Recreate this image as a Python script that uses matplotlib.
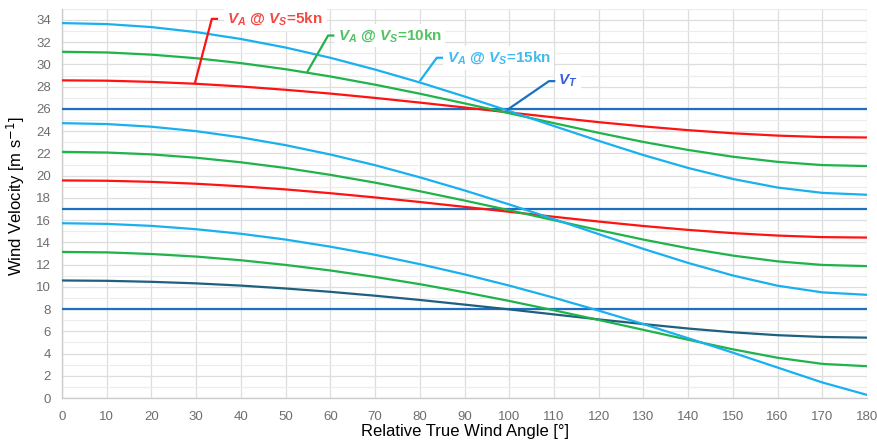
import matplotlib
matplotlib.use('Agg')
import matplotlib.pyplot as plt
from matplotlib.ticker import MultipleLocator

plt.rcParams['font.family'] = ['Liberation Sans', 'DejaVu Sans']
plt.rcParams['mathtext.fontset'] = 'custom'
plt.rcParams['mathtext.it'] = 'Liberation Sans:italic:bold'
plt.rcParams['mathtext.rm'] = 'Liberation Sans:bold'
plt.rcParams['mathtext.bf'] = 'Liberation Sans:bold'

angle = list(range(0, 181, 10))

# true wind speeds (horizontal lines)
vt_levels = [26, 17, 8]

# apparent wind, per true wind speed
va_26_5kn = [28.57, 28.54, 28.43, 28.26, 28.02, 27.72, 27.38, 26.99, 26.57, 26.13,
             25.68, 25.24, 24.81, 24.43, 24.09, 23.81, 23.60, 23.47, 23.43]
va_26_10kn = [31.14, 31.08, 30.88, 30.56, 30.12, 29.57, 28.92, 28.18, 27.37, 26.50,
              25.61, 24.72, 23.85, 23.03, 22.31, 21.70, 21.24, 20.95, 20.86]
va_26_15kn = [33.72, 33.63, 33.36, 32.91, 32.29, 31.52, 30.60, 29.54, 28.38, 27.12,
              25.81, 24.46, 23.13, 21.85, 20.69, 19.70, 18.93, 18.45, 18.28]

va_17_5kn = [19.57, 19.54, 19.44, 19.27, 19.04, 18.76, 18.42, 18.04, 17.63, 17.19,
             16.75, 16.30, 15.87, 15.47, 15.12, 14.83, 14.61, 14.47, 14.43]
va_17_10kn = [22.14, 22.08, 21.91, 21.61, 21.20, 20.69, 20.07, 19.37, 18.60, 17.76,
              16.89, 15.99, 15.10, 14.25, 13.47, 12.81, 12.29, 11.97, 11.86]
va_17_15kn = [24.72, 24.64, 24.40, 24.00, 23.44, 22.74, 21.90, 20.94, 19.85, 18.67,
              17.41, 16.09, 14.74, 13.41, 12.15, 11.02, 10.10, 9.50, 9.28]

va_8_5kn = [10.57, 10.54, 10.45, 10.31, 10.11, 9.85, 9.55, 9.20, 8.82, 8.40,
            7.97, 7.52, 7.07, 6.65, 6.25, 5.91, 5.65, 5.49, 5.43]
va_8_10kn = [13.14, 13.10, 12.95, 12.72, 12.39, 11.97, 11.47, 10.89, 10.24, 9.51,
             8.73, 7.89, 7.02, 6.13, 5.24, 4.38, 3.62, 3.07, 2.86]
va_8_15kn = [15.72, 15.66, 15.48, 15.18, 14.77, 14.25, 13.61, 12.88, 12.04, 11.12,
             10.11, 9.02, 7.86, 6.65, 5.38, 4.08, 2.74, 1.40, 0.28]

red = '#ff1212'
green = '#1fb34a'
cyan = '#19b0ef'
blue = '#1d6fc0'
teal = '#1f5f80'

fig = plt.figure(figsize=(8.77, 4.45), dpi=100)
ax = fig.add_axes([0.0707, 0.1056, 0.9179, 0.8745])

for v in vt_levels:
    ax.axhline(v, color=blue, lw=1.6, zorder=3)

lw = 1.6
ax.plot(angle, va_26_5kn, color=red, lw=lw, zorder=4)
ax.plot(angle, va_26_10kn, color=green, lw=lw, zorder=4)
ax.plot(angle, va_26_15kn, color=cyan, lw=lw, zorder=4)
ax.plot(angle, va_17_5kn, color=red, lw=lw, zorder=4)
ax.plot(angle, va_17_10kn, color=green, lw=lw, zorder=4)
ax.plot(angle, va_17_15kn, color=cyan, lw=lw, zorder=4)
ax.plot(angle, va_8_5kn, color=teal, lw=lw, zorder=4)
ax.plot(angle, va_8_10kn, color=green, lw=lw, zorder=4)
ax.plot(angle, va_8_15kn, color=cyan, lw=lw, zorder=4)

ax.set_xlim(0, 180)
ax.set_ylim(0, 35)
ax.xaxis.set_major_locator(MultipleLocator(10))
ax.yaxis.set_major_locator(MultipleLocator(2))
ax.yaxis.set_minor_locator(MultipleLocator(1))
ax.grid(which='major', axis='both', color='#dedede', lw=0.9)
ax.grid(which='minor', axis='y', color='#ececec', lw=0.8)
ax.set_axisbelow(True)
ax.tick_params(which='both', length=0, labelsize=9.5, labelcolor='#6e6e6e')
ax.tick_params(axis='x', pad=9)
ax.tick_params(axis='y', pad=8)
for s in ['top', 'right']:
    ax.spines[s].set_visible(False)
for s in ['left', 'bottom']:
    ax.spines[s].set_color('#cccccc')
    ax.spines[s].set_linewidth(1.0)

ax.set_xlabel('Relative True Wind Angle [°]', fontsize=12, labelpad=1)
ax.set_ylabel('Wind Velocity [m s$^{\\mathsf{-1}}$]', fontsize=12)
ax.yaxis.set_label_coords(-0.043, 0.52)

# callout labels
callouts = [
    (r'$V_A$ @ $V_S$=5kn', red, '#f24a45', (29.7, 28.3), (33.5, 34.1), 37.0, 34.1),
    (r'$V_A$ @ $V_S$=10kn', green, '#52c263', (54.8, 29.3), (59.5, 32.6), 61.7, 32.6),
    (r'$V_A$ @ $V_S$=15kn', cyan, '#45baf0', (80.0, 28.5), (83.8, 30.6), 86.0, 30.6),
    (r'$V_T$', blue, '#3a5ee0', (99.5, 25.9), (108.9, 28.5), 111.0, 28.5),
]
for label, col, tcol, p0, p1, tx, ty in callouts:
    ax.plot([p0[0], p1[0], p1[0] + 1.4], [p0[1], p1[1], p1[1]],
            color=col, lw=1.6, zorder=6, solid_capstyle='butt')
    ax.text(tx, ty, label, color=tcol, fontsize=11, fontweight='bold',
            va='center', ha='left', zorder=5,
            bbox=dict(facecolor='white', edgecolor='none', pad=2.5))

fig.savefig('out.png', dpi=100)
